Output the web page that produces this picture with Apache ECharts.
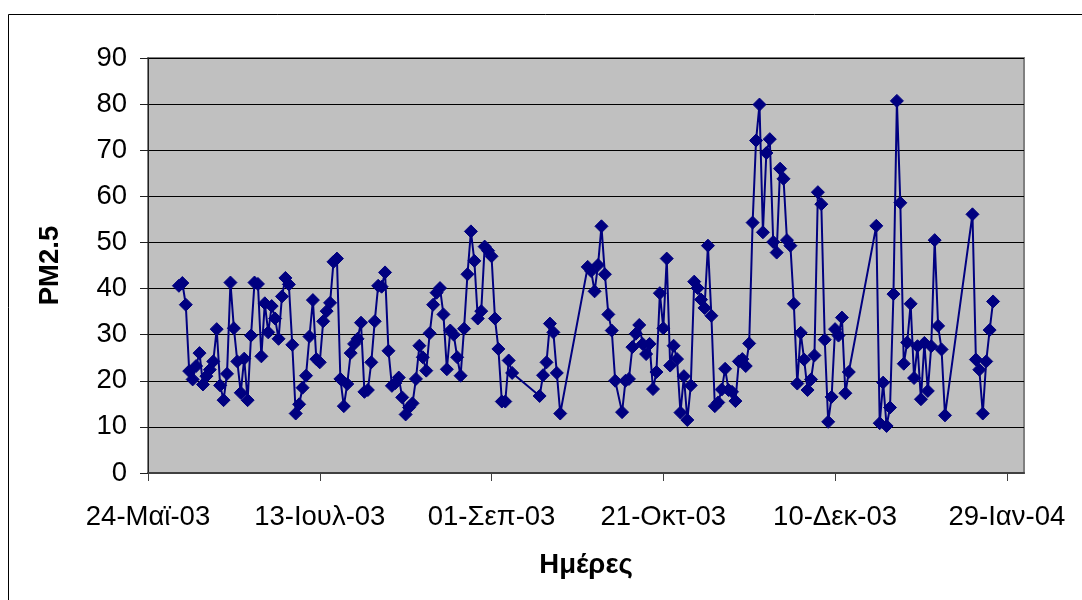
<!DOCTYPE html>
<html>
<head>
<meta charset="utf-8">
<script src="https://cdn.jsdelivr.net/npm/echarts@6/dist/echarts.min.js"></script>
<style>
  html, body { margin: 0; padding: 0; background: #fff; }
  #chart { width: 1082px; height: 600px; }
</style>
</head>
<body>
<div id="chart"></div>
<script>
// Daily PM2.5 readings, 2003-2004
const dates = [
  '2003-06-02','2003-06-03','2003-06-04','2003-06-05','2003-06-06','2003-06-07','2003-06-08','2003-06-09',
  '2003-06-10','2003-06-11','2003-06-12','2003-06-13','2003-06-14','2003-06-15','2003-06-16','2003-06-17',
  '2003-06-18','2003-06-19','2003-06-20','2003-06-21','2003-06-22','2003-06-23','2003-06-24','2003-06-25',
  '2003-06-26','2003-06-27','2003-06-28','2003-06-29','2003-06-30','2003-07-01','2003-07-02','2003-07-03',
  '2003-07-04','2003-07-05','2003-07-06','2003-07-07','2003-07-08','2003-07-09','2003-07-10','2003-07-11',
  '2003-07-12','2003-07-13','2003-07-14','2003-07-15','2003-07-16','2003-07-17','2003-07-18','2003-07-19',
  '2003-07-20','2003-07-21','2003-07-22','2003-07-23','2003-07-24','2003-07-25','2003-07-26','2003-07-27',
  '2003-07-28','2003-07-29','2003-07-30','2003-07-31','2003-08-01','2003-08-02','2003-08-03','2003-08-04',
  '2003-08-05','2003-08-06','2003-08-07','2003-08-08','2003-08-09','2003-08-10','2003-08-11','2003-08-12',
  '2003-08-13','2003-08-14','2003-08-15','2003-08-16','2003-08-17','2003-08-18','2003-08-19','2003-08-20',
  '2003-08-21','2003-08-22','2003-08-23','2003-08-24','2003-08-25','2003-08-26','2003-08-27','2003-08-28',
  '2003-08-29','2003-08-30','2003-08-31','2003-09-01','2003-09-02','2003-09-03','2003-09-04','2003-09-05',
  '2003-09-06','2003-09-07',
  '2003-09-15','2003-09-16','2003-09-17','2003-09-18','2003-09-19','2003-09-20','2003-09-21',
  '2003-09-29','2003-09-30','2003-10-01','2003-10-02','2003-10-03','2003-10-04','2003-10-05','2003-10-06',
  '2003-10-07','2003-10-09','2003-10-10','2003-10-11','2003-10-12','2003-10-13','2003-10-14','2003-10-15',
  '2003-10-16','2003-10-17','2003-10-18','2003-10-19','2003-10-20','2003-10-21','2003-10-22','2003-10-23',
  '2003-10-24','2003-10-25','2003-10-26','2003-10-27','2003-10-28','2003-10-29','2003-10-30','2003-10-31',
  '2003-11-01','2003-11-02','2003-11-03','2003-11-04','2003-11-05','2003-11-06','2003-11-07','2003-11-08',
  '2003-11-09','2003-11-10','2003-11-11','2003-11-12','2003-11-13','2003-11-14','2003-11-15','2003-11-16',
  '2003-11-17','2003-11-18','2003-11-19','2003-11-20','2003-11-21','2003-11-22','2003-11-23','2003-11-24',
  '2003-11-25','2003-11-26','2003-11-27','2003-11-28','2003-11-29','2003-11-30','2003-12-01','2003-12-02',
  '2003-12-03','2003-12-04','2003-12-05','2003-12-06','2003-12-07','2003-12-08','2003-12-09','2003-12-10',
  '2003-12-11','2003-12-12','2003-12-13','2003-12-14',
  '2003-12-22','2003-12-23','2003-12-24','2003-12-25','2003-12-26','2003-12-27','2003-12-28','2003-12-29',
  '2003-12-30','2003-12-31','2004-01-01','2004-01-02','2004-01-03','2004-01-04','2004-01-05','2004-01-06',
  '2004-01-07','2004-01-08','2004-01-09','2004-01-10','2004-01-11',
  '2004-01-19','2004-01-20','2004-01-21','2004-01-22','2004-01-23','2004-01-24','2004-01-25'
];

const pm25 = [
  40.6, 41.2, 36.5, 22.1, 20.3, 23.2, 26.0, 19.2,
  21.0, 22.4, 24.2, 31.2, 19.0, 15.8, 21.5, 41.3,
  31.4, 24.2, 17.4, 24.8, 15.8, 29.8, 41.3, 41.0,
  25.3, 36.8, 30.5, 36.2, 33.5, 29.1, 38.3, 42.3,
  40.9, 27.8, 12.9, 14.9, 18.5, 21.1, 29.6, 37.5,
  24.7, 24.0, 32.9, 35.1, 36.9, 45.8, 46.5, 20.4,
  14.5, 19.3, 26.0, 28.0, 29.1, 32.6, 17.6, 18.0,
  24.0, 32.9, 40.6, 40.4, 43.5, 26.5, 18.9, 19.5,
  20.7, 16.4, 12.7, 14.2, 15.1, 20.4, 27.6, 25.1,
  22.2, 30.3, 36.5, 39.1, 40.1, 34.4, 22.5, 30.9,
  30.0, 25.1, 21.1, 31.3, 43.1, 52.4, 46.0, 33.5,
  35.1, 49.1, 48.2, 47.0, 33.5, 26.9, 15.5, 15.5,
  24.4, 21.7,
  16.7, 21.2, 24.0, 32.4, 30.5, 21.7, 12.9,
  44.7, 43.8, 39.4, 45.1, 53.5, 43.1, 34.4, 30.9,
  20.0, 13.2, 20.0, 20.4, 27.3, 30.2, 32.1, 28.0,
  25.8, 28.0, 18.2, 21.9, 39.0, 31.4, 46.5, 23.3,
  27.6, 24.7, 13.1, 21.0, 11.5, 19.0, 41.5, 40.1,
  37.6, 35.8, 49.3, 34.1, 14.5, 15.3, 18.1, 22.6,
  18.0, 17.6, 15.6, 24.2, 24.7, 23.2, 28.1, 54.3,
  72.1, 79.9, 52.2, 69.4, 72.4, 50.1, 47.8, 66.0,
  63.8, 50.5, 49.3, 36.7, 19.4, 30.4, 24.6, 18.0,
  20.3, 25.5, 60.9, 58.3, 28.9, 11.1, 16.5, 31.2,
  29.8, 33.7, 17.3, 21.9,
  53.6, 10.8, 19.6, 10.2, 14.2, 38.8, 80.7, 58.6,
  23.7, 28.3, 36.7, 20.6, 27.5, 16.0, 28.2, 17.8,
  27.5, 50.5, 31.9, 26.8, 12.5,
  56.1, 24.6, 22.4, 12.9, 24.2, 31.0, 37.2
];

// Date axis: start date, tick step (days), axis end (days), tick labels
const axisStart = '2003-05-24';
const tickStepDays = 50;
const axisEndDays = 255;
const xTickLabels = ['24-Μαϊ-03', '13-Ιουλ-03', '01-Σεπ-03', '21-Οκτ-03', '10-Δεκ-03', '29-Ιαν-04'];

const yTicks = [0, 10, 20, 30, 40, 50, 60, 70, 80, 90];

const DAY = 86400000;
function dayOffset(s) {
  const [y, m, d] = s.split('-').map(Number);
  const [y0, m0, d0] = axisStart.split('-').map(Number);
  return Math.round((Date.UTC(y, m - 1, d) - Date.UTC(y0, m0 - 1, d0)) / DAY);
}

const points = dates.map((d, i) => [dayOffset(d), pm25[i]]);
const xTickValues = xTickLabels.map((_, i) => i * tickStepDays);

const FONT = '"Liberation Sans", Arial, sans-serif';

const chart = echarts.init(document.getElementById('chart'), null, { renderer: 'canvas' });

chart.setOption({
  backgroundColor: '#ffffff',
  animation: false,
  graphic: [{
    type: 'rect',
    shape: { x: 8.5, y: 14.5, width: 1200, height: 800 },
    style: { fill: 'none', stroke: '#000000', lineWidth: 1 },
    z: 0
  }],
  grid: {
    left: 148, top: 58, right: 58, bottom: 127,
    show: true,
    backgroundColor: '#C0C0C0',
    borderColor: '#808080',
    borderWidth: 2
  },
  xAxis: {
    type: 'value',
    min: 0,
    max: axisEndDays,
    interval: tickStepDays,
    name: 'Ημέρες',
    nameLocation: 'middle',
    nameGap: 78,
    nameTextStyle: { fontFamily: FONT, fontSize: 27.5, fontWeight: 'bold', color: '#000' },
    axisLine: { show: true, onZero: false, lineStyle: { color: '#404040', width: 2 } },
    axisTick: { show: true, inside: false, length: 8, customValues: xTickValues, lineStyle: { color: '#404040', width: 1 } },
    axisLabel: {
      customValues: xTickValues,
      margin: 30,
      fontFamily: FONT, fontSize: 27.5, color: '#000',
      formatter: v => xTickLabels[Math.round(v / tickStepDays)] || ''
    },
    splitLine: { show: false }
  },
  yAxis: {
    type: 'value',
    min: yTicks[0],
    max: yTicks[yTicks.length - 1],
    interval: 10,
    name: 'PM2.5',
    nameLocation: 'middle',
    nameGap: 84,
    nameRotate: 90,
    nameTextStyle: { fontFamily: FONT, fontSize: 27.5, fontWeight: 'bold', color: '#000' },
    axisLine: { show: true, lineStyle: { color: '#202020', width: 1 } },
    axisTick: { show: true, inside: false, length: 8, lineStyle: { color: '#202020', width: 1 } },
    axisLabel: { margin: 21, fontFamily: FONT, fontSize: 27.5, color: '#000' },
    splitLine: { show: true, lineStyle: { color: '#000000', width: 1 } }
  },
  series: [{
    type: 'line',
    name: 'PM2.5',
    data: points,
    symbol: 'diamond',
    symbolSize: 13,
    showAllSymbol: true,
    lineStyle: { color: '#000080', width: 2 },
    itemStyle: { color: '#000080', borderColor: '#000080', borderWidth: 1 },
    z: 3
  }]
});
</script>
</body>
</html>
